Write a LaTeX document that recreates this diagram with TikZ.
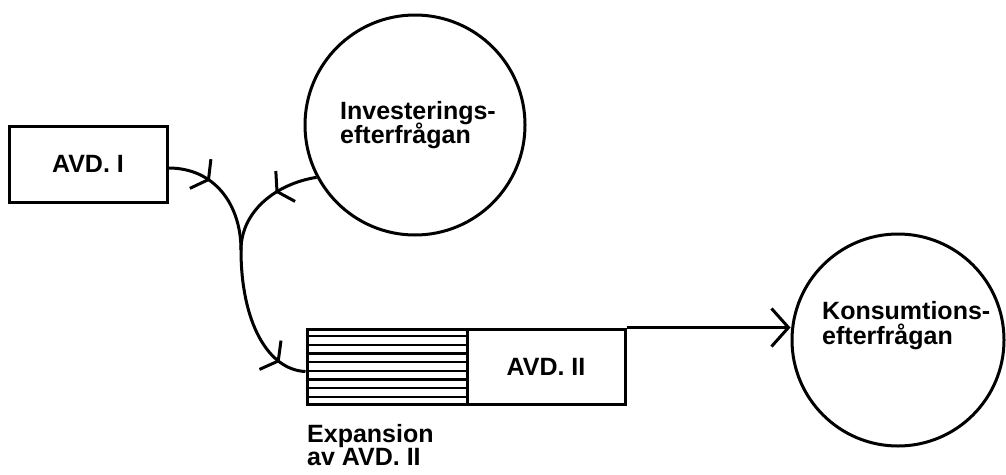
\documentclass[tikz,border=0pt]{standalone}
\usepackage{fontspec}
\setmainfont{Liberation Sans}
\usetikzlibrary{arrows.meta,decorations.markings,calc}
\tikzset{
  mybarb/.tip={Straight Barb[length=10pt,width=36pt,line width=3pt]},
  mybigbarb/.tip={Straight Barb[length=17pt,width=38pt,line width=3pt]}
}
\begin{document}
\begin{tikzpicture}[x=1pt,y=-1pt,
  every node/.style={font=\bfseries\fontsize{25}{24}\selectfont},
  ln/.style={line width=3pt},
  boxnode/.style={draw,ln,rectangle,inner sep=0pt},
  circnode/.style={draw,ln,circle,inner sep=0pt},
  txt/.style={anchor=base west,inner sep=0pt},
  midarrow/.style={postaction={decorate},decoration={markings,mark=at position #1 with {\arrow{mybarb}}}}
]
\useasboundingbox (0,0) rectangle (1006,474);
\node[boxnode,minimum width=158pt,minimum height=76pt] (avd1) at (88,164) {AVD. I};
\node[circnode,minimum size=220pt] (inv) at (415,125) {};
\node[txt] (invtextA) at (340,119) {Investerings-};
\node[txt] (invtextB) at (340,143) {efterfrågan};
\node[boxnode,minimum width=160pt,minimum height=75pt] (exp) at (387,366.5) {};
\node[boxnode,minimum width=158pt,minimum height=75pt] (avd2) at (546,366.5) {AVD. II};
\node[circnode,minimum size=212pt] (konsum) at (898,340) {};
\node[txt] (konsumtextA) at (822,319) {Konsumtions-};
\node[txt] (konsumtextB) at (822,344) {efterfrågan};
\node[txt] (explabelA) at (307,442) {Expansion};
\node[txt] (explabelB) at (307,465) {av AVD. II};
\foreach \i in {1,...,8}
  \draw[line width=2.2pt] ($(exp.north west)!\i/9!(exp.south west)$) -- ($(exp.north east)!\i/9!(exp.south east)$);
\coordinate (join) at (241,250);
\draw[ln,postaction={decorate},decoration={markings,
    mark=at position 44pt with {\arrow{mybarb}},
    mark=at position -28pt with {\arrow{mybarb}}}]
  ([yshift=-4pt]avd1.east) .. controls (215,168) and (241,205) .. (join)
  .. controls (241,322) and (268,370) .. ([yshift=-5pt]exp.west);
\draw[ln,midarrow=44pt] (inv.208) .. controls (275,184) and (241,212) .. (join);
\draw[ln,-{mybigbarb}] (avd2.north east) -- (avd2.north east -| konsum.west);
\end{tikzpicture}
\end{document}
